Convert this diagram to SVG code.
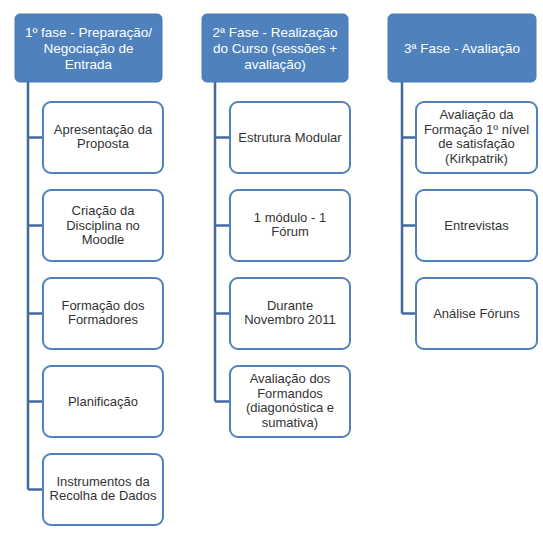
<svg xmlns="http://www.w3.org/2000/svg" width="543" height="549" viewBox="0 0 543 549">
<style>
.hdr rect{fill:#4f81bd;stroke:#4a7ab5;stroke-width:1}
.hdr text{fill:#fff;font-family:"Liberation Sans",Arial,sans-serif;font-size:13.5px;text-anchor:middle}
.box rect{fill:#fff;stroke:#4f81bd;stroke-width:2}
.box text{fill:#333;font-family:"Liberation Sans",Arial,sans-serif;font-size:13px;text-anchor:middle}
#connectors path{fill:none;stroke:#43699d;stroke-width:2.5}
</style>
<rect width="543" height="549" fill="#fff"/>
<g id="connectors">
<path d="M28 82V489.5M28 137.5H43M28 225.5H43M28 313.5H43M28 401.5H43M28 489.5H43"/>
<path d="M215 82V401.5M215 137.5H230M215 225.5H230M215 313.5H230M215 401.5H230"/>
<path d="M402 82V313.5M402 137.5H416M402 225.5H416M402 313.5H416"/>
</g>
<g id="h1" class="hdr"><rect x="15" y="14" width="147" height="68" rx="5"/><text x="88.5" y="37">1º fase - Preparação/</text><text x="88.5" y="53">Negociação de</text><text x="88.5" y="69">Entrada</text></g>
<g id="h2" class="hdr"><rect x="202" y="14" width="146" height="68" rx="5"/><text x="275" y="37">2ª Fase - Realização</text><text x="275" y="53">do Curso (sessões +</text><text x="275" y="69">avaliação)</text></g>
<g id="h3" class="hdr"><rect x="388" y="14" width="148" height="68" rx="5"/><text x="462" y="53">3ª Fase - Avaliação</text></g>

<g id="a1" class="box"><rect x="43" y="102" width="120" height="71" rx="8"/><text x="103" y="134">Apresentação da</text><text x="103" y="148">Proposta</text></g>
<g id="a2" class="box"><rect x="43" y="190" width="120" height="71" rx="8"/><text x="103" y="215">Criação da</text><text x="103" y="229.5">Disciplina no</text><text x="103" y="244">Moodle</text></g>
<g id="a3" class="box"><rect x="43" y="278" width="120" height="71" rx="8"/><text x="103" y="310">Formação dos</text><text x="103" y="324">Formadores</text></g>
<g id="a4" class="box"><rect x="43" y="366" width="120" height="71" rx="8"/><text x="103" y="406">Planificação</text></g>
<g id="a5" class="box"><rect x="43" y="454" width="120" height="71" rx="8"/><text x="103" y="486">Instrumentos da</text><text x="103" y="500">Recolha de Dados</text></g>

<g id="b1" class="box"><rect x="230" y="102" width="120" height="71" rx="8"/><text x="290" y="142">Estrutura Modular</text></g>
<g id="b2" class="box"><rect x="230" y="190" width="120" height="71" rx="8"/><text x="290" y="222">1 módulo - 1</text><text x="290" y="236">Fórum</text></g>
<g id="b3" class="box"><rect x="230" y="278" width="120" height="71" rx="8"/><text x="290" y="310">Durante</text><text x="290" y="324">Novembro 2011</text></g>
<g id="b4" class="box"><rect x="230" y="366" width="120" height="71" rx="8"/><text x="290" y="383">Avaliação dos</text><text x="290" y="397.5">Formandos</text><text x="290" y="412">(diagonóstica e</text><text x="290" y="426.5">sumativa)</text></g>

<g id="c1" class="box"><rect x="416" y="102" width="121" height="71" rx="8"/><text x="476.5" y="119">Avaliação da</text><text x="476.5" y="133.5">Formação 1º nível</text><text x="476.5" y="148">de satisfação</text><text x="476.5" y="162.5">(Kirkpatrik)</text></g>
<g id="c2" class="box"><rect x="416" y="190" width="121" height="71" rx="8"/><text x="476.5" y="230">Entrevistas</text></g>
<g id="c3" class="box"><rect x="416" y="278" width="121" height="71" rx="8"/><text x="476.5" y="318">Análise Fóruns</text></g>
</svg>
